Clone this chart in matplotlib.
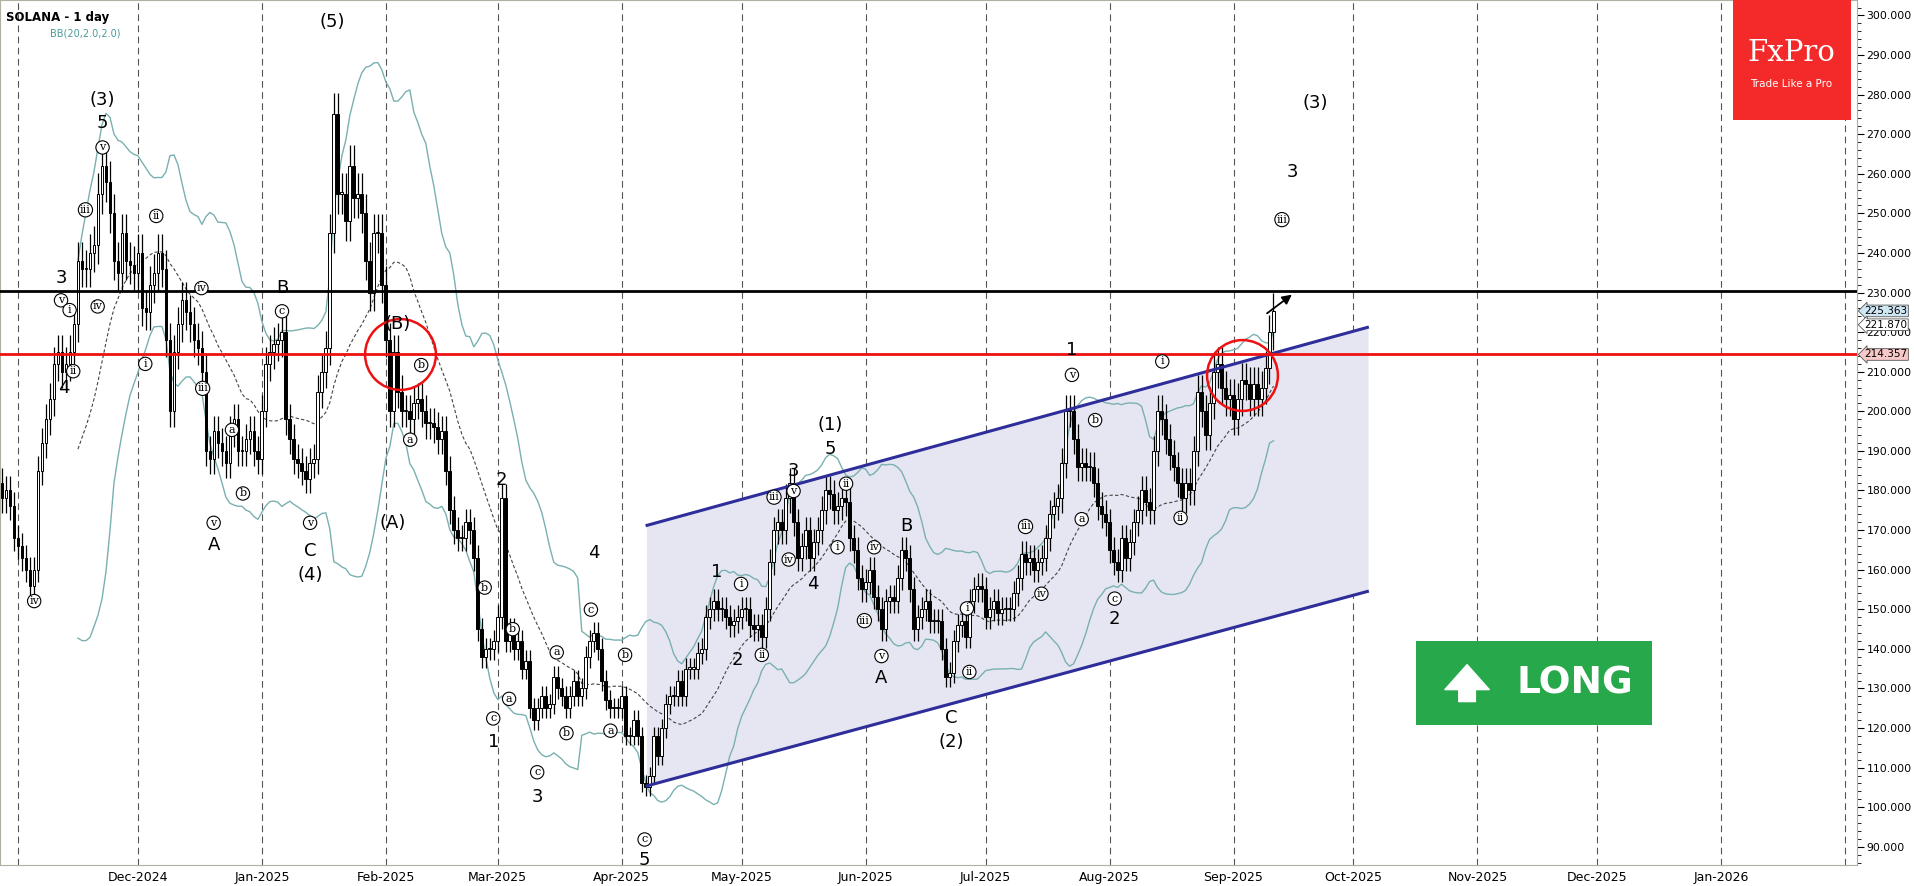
import matplotlib
matplotlib.use("Agg")
import matplotlib.pyplot as plt
import numpy as np
import pandas as pd
from matplotlib.patches import Rectangle, FancyArrowPatch

start = pd.Timestamp("2024-10-28")
closes = [
 178,180,176,168,166,163,160, 156,160,185,192,198,203,212, 215,210,212,215,222,238,236,
 236,240,242,255,262,258,250, 238,235,245,238,237,235,240, 226,225,232,235,240,236,218,
 200,215,222,228,225,222,218, 216,210,190,188,195,192,190, 187,195,198,190,190,193,195,
 190,188,200,212,215,217,218, 220,198,193,188,187,185,183, 187,188,205,210,216,245,275,
 255,255,248,262,254,255,250, 238,230,245,245,232,218,200, 215,205,200,200,198,202,203,
 200,197,197,196,193,195,185, 175,170,168,168,172,170,163, 145,138,140,140,142,148,178,
 142,145,140,142,135,137,125, 122,125,128,125,126,133,130, 128,125,128,132,128,130,138,
 142,144,140,132,127,125,125, 125,128,118,118,122,118,106, 105,108,118,113,120,126,128,
 128,132,128,135,135,135,139, 140,148,150,152,150,150,148, 146,147,148,150,150,146,145,
 146,143,150,162,170,172,170, 178,182,172,163,166,170,163, 167,170,175,180,179,175,176,
 178,177,168,165,158,155,157, 160,153,150,145,152,153,152, 158,165,163,155,145,148,150,
 152,147,147,147,140,133,134, 142,146,147,143,152,155,156, 155,148,150,152,149,150,150,
 150,154,158,164,162,163,160, 162,163,168,174,176,178,187, 200,200,193,186,187,186,186,
 182,176,174,172,165,162,160, 168,163,167,172,175,180,177, 175,190,200,198,193,189,186,
 182,178,182,180,190,205,200, 194,202,210,212,206,203,204, 198,203,208,207,203,207,203,
 206,211,220,225.363]
first_open = 182

black_level = 230.5
red_level = 214.357
price_tags = [(225.363, "#cfe6f5"), (221.870, "white"), (214.357, "#f7c8c8")]
channel_upper = [171.2, 221.2]
channel_lower = [105.4, 154.5]

# wave labels: (x, y on reference layout, text, circled)
labels = [(272,18,'(5)',0),(84,82,'(3)',0),(84,101,'5',0),(84,121,'v',1),(70,172,'iii',1),(50,228,'3',0),
 (50,246,'v',1),(57,254,'i',1),(80,251,'iv',1),(60,304,'ii',1),(52,318,'4',0),(28,492,'iv',1),(128,177,'ii',1),
 (119,298,'i',1),(165,236,'iv',1),(166,318,'iii',1),(190,352,'a',1),(199,404,'b',1),(175,428,'v',1),(175,446,'A',0),
 (231,236,'B',0),(231,255,'c',1),(254,428,'v',1),(254,451,'C',0),(254,471,'(4)',0),(326,265,'(B)',0),(345,299,'b',1),
 (336,360,'a',1),(322,428,'(A)',0),(411,393,'2',0),(397,481,'b',1),(420,515,'b',1),(404,588,'c',1),(417,572,'a',1),
 (404,607,'1',0),(440,632,'c',1),(440,652,'3',0),(456,534,'a',1),(464,600,'b',1),(486,453,'4',0),(484,499,'c',1),
 (512,536,'b',1),(500,598,'a',1),(528,687,'c',1),(528,704,'5',0),(587,468,'1',0),(607,478,'i',1),(604,540,'2',0),
 (624,536,'ii',1),(650,386,'3',0),(650,402,'v',1),(634,407,'iii',1),(680,368,'5',0),(680,348,'(1)',0),(646,458,'iv',1),
 (666,478,'4',0),(693,396,'ii',1),(686,448,'i',1),(716,448,'iv',1),(708,508,'iii',1),(722,537,'v',1),(722,555,'A',0),
 (742,431,'B',0),(792,498,'i',1),(794,550,'ii',1),(779,588,'C',0),(779,607,'(2)',0),(840,431,'iii',1),(853,486,'iv',1),
 (878,287,'1',0),(878,307,'v',1),(897,344,'b',1),(886,425,'a',1),(913,490,'c',1),(913,507,'2',0),(952,296,'i',1),
 (967,424,'ii',1),(1077,85,'(3)',0),(1059,141,'3',0),(1050,180,'iii',1)]
def to_day(x): return 34 + (x - 113) / 3.275
def to_price(y): return 300 - (y - 13) / 3.238
channel_days = [to_day(530), to_day(1120)]

c = np.array(closes, float)
o = np.concatenate([[first_open], c[:-1]])
days = np.arange(len(c))
s = pd.Series(c)
mid = s.rolling(20).mean()
sd = s.rolling(20).std(ddof=0)
up_bb, lo_bb = mid + 2*sd, mid - 2*sd

fig = plt.figure(figsize=(19.14, 8.86), dpi=100)
ax = fig.add_axes([0.0, 0.0237, 0.9702, 0.9763])
XMAX = to_day(1521)
ax.set_xlim(-0.5, XMAX)
ax.set_ylim(85.4, 303.9)

months = pd.date_range("2024-11-01", "2026-02-01", freq="MS")
mdays = [(m - start).days for m in months]
for d in mdays:
    ax.axvline(d, color="#555555", lw=0.8, ls=(0, (6, 4)), zorder=0)
ax.set_xticks(mdays[1:15])
ax.set_xticklabels([m.strftime("%b-%Y") for m in months[1:15]], fontsize=9)
ax.tick_params(axis="x", length=0, pad=4)

ax.fill_between(channel_days, channel_lower, channel_upper, color="#e6e6f3", zorder=1)
ax.plot(channel_days, channel_upper, color="#2e2e9a", lw=2.2, zorder=4)
ax.plot(channel_days, channel_lower, color="#2e2e9a", lw=2.2, zorder=4)

ax.plot(days, up_bb, color="#7ab0b0", lw=1, zorder=2)
ax.plot(days, lo_bb, color="#7ab0b0", lw=1, zorder=2)
ax.plot(days, mid, color="#444444", lw=0.8, ls=(0, (3, 2)), zorder=2)

hi = np.maximum(o, c) * 1.02
lo = np.minimum(o, c) * 0.98
ax.vlines(days, lo, hi, color="black", lw=0.9, zorder=3)
for d, oo, cc in zip(days, o, c):
    bot, h = min(oo, cc), max(abs(cc - oo), 0.3)
    ax.add_patch(Rectangle((d - 0.35, bot), 0.7, h, facecolor="white" if cc >= oo else "black",
                           edgecolor="black", lw=0.7, zorder=3))

ax.axhline(black_level, color="black", lw=2, zorder=5)
ax.axhline(red_level, color="#ee1111", lw=2, zorder=5)

for x, y in [(328, 290), (1017, 307)]:
    ax.plot(to_day(x), to_price(y), "o", ms=51, mfc="none", mec="#ee1111", mew=1.8, zorder=6)

ax.add_patch(FancyArrowPatch((to_day(1036), to_price(258)), (to_day(1060), to_price(240)),
             arrowstyle="-|>", mutation_scale=14, color="black", lw=1.3, zorder=6))

for x, y, t, circ in labels:
    kw = dict(ha="center", va="center", zorder=7)
    if circ:
        ax.text(to_day(x), to_price(y), t, fontsize=8, family="DejaVu Serif",
                bbox=dict(boxstyle="circle,pad=0.15", fc="white", ec="black", lw=0.8), **kw)
    else:
        ax.text(to_day(x), to_price(y), t, fontsize=13, **kw)

ax.yaxis.tick_right()
ax.set_yticks(np.arange(90, 301, 10))
ax.set_yticklabels([f"{v:.3f}" for v in np.arange(90, 301, 10)], fontsize=7.8)
ax.set_yticks(np.arange(86, 304, 2), minor=True)
ax.tick_params(axis="y", which="major", length=5, direction="out", pad=2)
ax.tick_params(axis="y", which="minor", length=3)
for sp in ax.spines.values():
    sp.set_color("#b0b0a0")

for val, col in price_tags:
    ax.text(1.004, (val - 85.4) / (303.9 - 85.4), f"{val:.3f}", transform=ax.transAxes, fontsize=7.5,
            va="center", ha="left", bbox=dict(boxstyle="larrow,pad=0.08", fc=col, ec="#555555", lw=0.6), zorder=8)

fig.text(0.003, 0.988, "SOLANA - 1 day", fontsize=8.5, fontweight="bold", va="top")
fig.text(0.026, 0.968, "BB(20,2.0,2.0)", fontsize=7, color="#4a9a9a", va="top")

fig.patches.append(Rectangle((0.9054, 0.8646), 0.0617, 0.1354, transform=fig.transFigure,
                             facecolor="#f42a2a", edgecolor="none", zorder=10))
fig.text(0.936, 0.94, "FxPro", fontsize=21, family="DejaVu Serif", color="white", ha="center", va="center", zorder=11)
fig.text(0.936, 0.905, "Trade Like a Pro", fontsize=7.5, color="white", ha="center", va="center", zorder=11)

fig.patches.append(Rectangle((0.740, 0.182), 0.123, 0.095, transform=fig.transFigure,
                             facecolor="#27a84a", edgecolor="none", zorder=10))
fig.text(0.823, 0.229, "LONG", fontsize=27, fontweight="bold", color="white", ha="center", va="center", zorder=11)
fig.patches.append(FancyArrowPatch((0.7665, 0.205), (0.7665, 0.253), transform=fig.transFigure,
                   arrowstyle="simple,head_width=1.6,head_length=0.9,tail_width=0.6", mutation_scale=20,
                   color="white", zorder=11))

fig.savefig("out.png", dpi=100)
